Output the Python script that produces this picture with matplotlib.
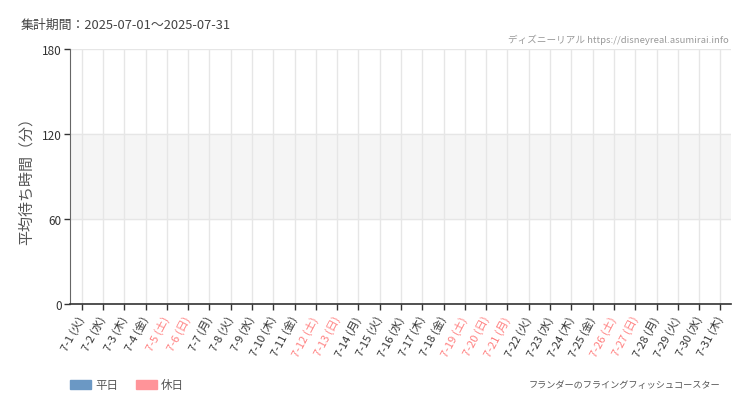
import numpy as np
import matplotlib
matplotlib.use('Agg')
from matplotlib import pyplot as plt
from matplotlib.patches import Patch

plt.rcParams['font.family'] = ['Noto Sans CJK JP', 'DejaVu Sans']

# データ（集計期間内のデータなし）
days = list(range(1, 32))
weekdays = ['火', '水', '木', '金', '土', '日', '月']
day_names = [weekdays[(d - 1) % 7] for d in days]
holidays = [5, 6, 12, 13, 19, 20, 21, 26, 27]
weekday_wait = [np.nan] * 31
holiday_wait = [np.nan] * 31
yticks = [0, 60, 120, 180]

labels = ['7-%d (%s)' % (d, n) for d, n in zip(days, day_names)]
x = np.arange(len(days))

fig = plt.figure(figsize=(7.5, 4.1), dpi=100)
ax = fig.add_axes([0.0933, 0.2561, 0.8814, 0.6219])

ax.axhspan(60, 120, color='#f5f5f5', zorder=0)
ax.bar(x, weekday_wait, color='#6b98c4', width=0.7)
ax.bar(x, holiday_wait, color='#ff9499', width=0.7)

ax.set_xlim(-0.55, 30.5)
ax.set_ylim(0, 180)
ax.set_xticks(x)
ax.set_xticklabels(labels, rotation=62, ha='right', va='center', rotation_mode='anchor', fontsize=8.0)
for lbl, d in zip(ax.get_xticklabels(), days):
    lbl.set_color('#ff8080' if d in holidays else '#333333')
ax.set_yticks(yticks)
ax.tick_params(axis='y', labelsize=8.5, colors='#333333', length=4, width=1, pad=2)
ax.tick_params(axis='x', length=4, width=1, color='#333333', pad=5)
ax.grid(True, color='#e6e6e6', linewidth=1)
ax.set_axisbelow(True)

for s in ['top', 'right']:
    ax.spines[s].set_visible(False)
ax.spines['left'].set_color('#666666')
ax.spines['bottom'].set_color('#333333')
ax.spines['bottom'].set_linewidth(1.2)

ax.set_ylabel('平均待ち時間（分）', fontsize=10.8, color='#555555', labelpad=6)

fig.text(0.027, 0.937, '集計期間：2025-07-01～2025-07-31', fontsize=9.3, color='#444444', va='center')
fig.text(0.972, 0.903, 'ディズニーリアル https://disneyreal.asumirai.info', fontsize=6.9,
         color='#999999', ha='right', va='center')
fig.text(0.96, 0.059, 'フランダーのフライングフィッシュコースター', fontsize=6.6,
         color='#555555', ha='right', va='center')

handles = [Patch(color='#6b98c4', label='平日'), Patch(color='#ff9499', label='休日')]
fig.legend(handles=handles, loc='center left', bbox_to_anchor=(0.0933, 0.059), ncol=2,
           frameon=False, fontsize=8.3, handlelength=1.85, handleheight=0.85,
           handletextpad=0.36, columnspacing=1.5, labelcolor='#555555',
           borderpad=0, borderaxespad=0)

plt.savefig('out.png', dpi=100)
